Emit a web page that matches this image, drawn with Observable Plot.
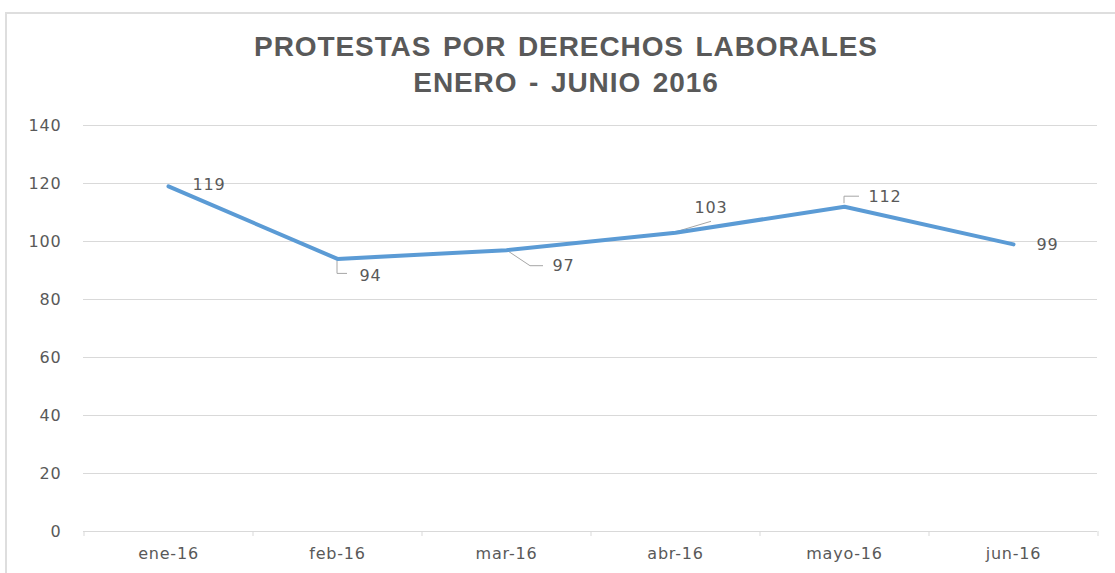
<!DOCTYPE html>
<html>
<head>
<meta charset="utf-8">
<script src="https://cdn.jsdelivr.net/npm/d3@7"></script>
<script src="https://cdn.jsdelivr.net/npm/@observablehq/plot@0.6"></script>
<style>
  html, body { margin: 0; padding: 0; background: #fff; }
  #wrap { position: relative; width: 1115px; height: 573px; overflow: hidden; }
  #frame { position: absolute; left: 5px; top: 12px; width: 1200px; height: 700px;
           border-left: 2px solid #dedede; border-top: 2px solid #dedede; }
  #title { position: absolute; left: 0; top: 29px; width: 1132px; text-align: center;
           font-family: "Liberation Sans", Arial, sans-serif; font-weight: bold; font-size: 28px;
           line-height: 36px; color: #595959; word-spacing: 3px; letter-spacing: 0.9px; }
  #chart { position: absolute; left: 0; top: 100px; }
</style>
</head>
<body>
<div id="wrap">
  <div id="frame"></div>
  <div id="title">PROTESTAS POR DERECHOS LABORALES<br>ENERO - JUNIO 2016</div>
  <div id="chart"></div>
</div>
<script>
// Data
const months = ["ene-16", "feb-16", "mar-16", "abr-16", "mayo-16", "jun-16"];
const protests = [119, 94, 97, 103, 112, 99];
const yTicks = [0, 20, 40, 60, 80, 100, 120, 140];

// Annotation layout (pixel offsets of data labels and leader lines relative to their point)
const labelOffsets = [
  {dx: 24, dy: -2, leader: []},
  {dx: 22, dy: 17, leader: [[0, 2], [0, 15], [10, 15]]},
  {dx: 46, dy: 16, leader: [[0, 0], [24, 16], [37, 16]]},
  {dx: 19, dy: -25, leader: [[-1, 0], [36, -11]]},
  {dx: 24, dy: -10, leader: [[0, -3], [0, -10], [15, -10]]},
  {dx: 23, dy: 0, leader: []}
];

const data = months.map((m, i) => ({month: m, value: protests[i]}));

const W = 1115, H = 473, ML = 83, MR = 18, MT = 25, MB = 42;
const step = (W - ML - MR) / months.length;

const color = "#595959";
const grid = "#d9d9d9";

const labelMarks = data.map((d, i) => Plot.text([d], {
  x: "month", y: "value", text: dd => String(dd.value),
  dx: labelOffsets[i].dx, dy: labelOffsets[i].dy,
  textAnchor: "start", fill: color, fontSize: 16, letterSpacing: "0.8px"
}));

const leaders = (index, scales) => {
  const g = d3.create("svg:g").attr("fill", "none").attr("stroke", "#a6a6a6").attr("stroke-width", 1);
  data.forEach((d, i) => {
    const pts = labelOffsets[i].leader;
    if (!pts.length) return;
    const x0 = scales.x(d.month), y0 = scales.y(d.value);
    g.append("path").attr("d", d3.line()(pts.map(([a, b]) => [x0 + a, y0 + b])));
  });
  return g.node();
};

const chart = Plot.plot({
  width: W, height: H,
  marginLeft: ML, marginRight: MR, marginTop: MT, marginBottom: MB,
  style: {fontFamily: "'DejaVu Sans', Verdana, sans-serif", fontSize: "16px", color: color, background: "transparent", letterSpacing: "0.8px"},
  x: {type: "point", domain: months, padding: 0.5, label: null, tickSize: 0, tickPadding: 16},
  y: {domain: [0, 140], ticks: yTicks, label: null, tickSize: 0, tickPadding: 22, tickFormat: d => String(d)},
  marks: [
    Plot.ruleY(yTicks, {stroke: grid, strokeWidth: 1}),
    Plot.ruleX(months, {x: d => d, y1: 0, y2: 0, insetBottom: -5, dx: -step / 2, stroke: grid}),
    Plot.ruleX([months[months.length - 1]], {x: d => d, y1: 0, y2: 0, insetBottom: -5, dx: step / 2, stroke: grid}),
    leaders,
    Plot.line(data, {x: "month", y: "value", stroke: "#5B9BD5", strokeWidth: 4, strokeLinecap: "round", strokeLinejoin: "round"}),
    ...labelMarks
  ]
});
document.getElementById("chart").appendChild(chart);
</script>
</body>
</html>
